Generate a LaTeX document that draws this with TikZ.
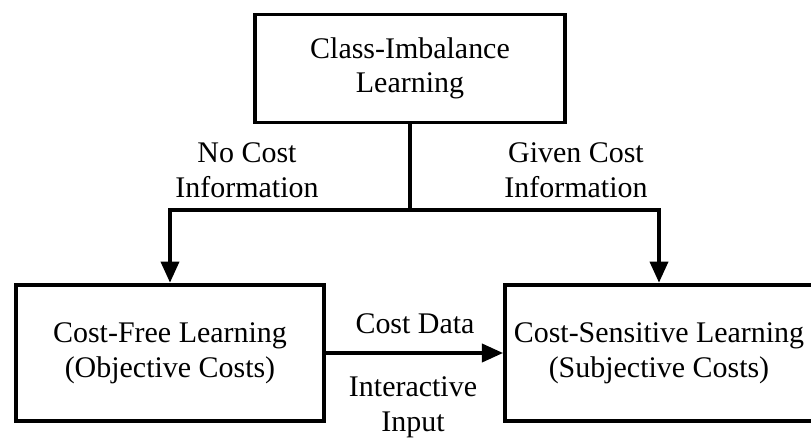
\documentclass[tikz,border=0pt]{standalone}
\usepackage{fontspec}
\setmainfont{Liberation Serif}
\usetikzlibrary{arrows.meta}
\tikzset{>={Triangle[length=15pt, width=13pt]}}
\tikzset{
    blk/.style={draw, line width=2.8pt, align=center, inner sep=0pt},
    lbl/.style={align=center, inner sep=0pt},
    conn/.style={line width=2.2pt},
}

\begin{document}
\begin{tikzpicture}[x=0.025cm, y=-0.025cm, font=\fontsize{21.3}{24.6}\selectfont]
    \useasboundingbox (0, 0) rectangle (811, 439);
    % the three boxes
    \node[blk, minimum width=7.75cm, minimum height=2.7cm] (cil) at (410, 68.5) {Class-Imbalance\\Learning};
    \node[blk, minimum width=7.7cm, minimum height=3.42cm] (cfl) at (170, 353) {Cost-Free Learning\\(Objective Costs)};
    \node[blk, minimum width=7.7cm, minimum height=3.42cm] (csl) at (659, 353) {Cost-Sensitive Learning\\(Subjective Costs)};
    % branch from the top box
    \coordinate (fork) at (410, 210);
    \draw[conn] (cil.south)--(fork);
    \draw[conn, ->] (fork)-|(cfl.north);
    \draw[conn, ->] (fork)-|(csl.north);
    \draw[conn, ->] (cfl.east)--(csl.west);
    % labels
    \node[lbl] (nocost) at (247, 170) {No Cost\\Information};
    \node[lbl] (given) at (576, 170) {Given Cost\\Information};
    \node[lbl] (data) at (415, 324) {Cost Data};
    \node[lbl] (inter) at (413, 407) {Interactive\\Input};
\end{tikzpicture}
\end{document}
